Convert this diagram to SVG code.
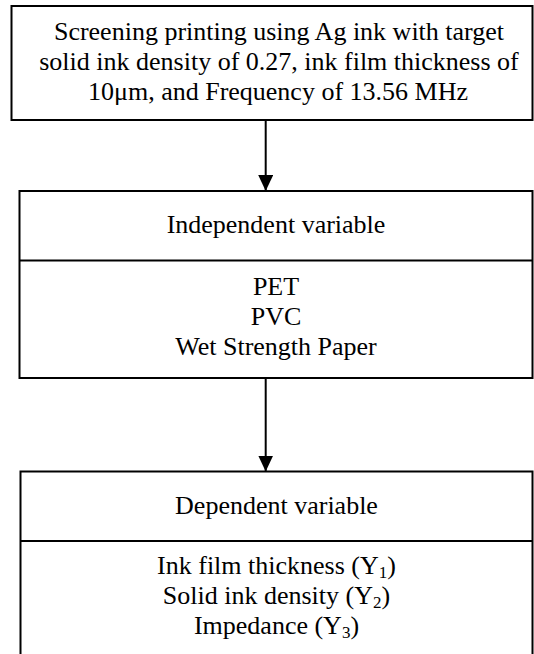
<svg xmlns="http://www.w3.org/2000/svg" width="534" height="654" viewBox="0 0 534 654">
<style>
.box{fill:#fff;stroke:#000;stroke-width:2}
.div{stroke:#000;stroke-width:2}
.t{font-family:"Liberation Serif","Times New Roman",serif;font-size:26px;fill:#000;text-anchor:middle}
.sub{font-size:17px}
.conn{stroke:#000;stroke-width:2;fill:none}
</style>
<defs>
<marker id="ah" markerUnits="userSpaceOnUse" markerWidth="16" markerHeight="16" refX="16" refY="7.5" orient="auto">
<path d="M0,0 L16,7.5 L0,15 Z" fill="#000"/>
</marker>
</defs>
<rect width="534" height="654" fill="#fff"/>
<g id="connectors">
<line class="conn" x1="265.7" y1="120" x2="265.7" y2="191" marker-end="url(#ah)"/>
<line class="conn" x1="265.7" y1="378" x2="265.7" y2="471.5" marker-end="url(#ah)"/>
</g>
<g id="node-screen-printing">
<rect class="box" x="11.5" y="6" width="521" height="114"/>
<text class="t" x="279" y="40">Screening printing using Ag ink with target</text>
<text class="t" x="279" y="70">solid ink density of 0.27, ink film thickness of</text>
<text class="t" x="278" y="99.5">10μm, and Frequency of 13.56 MHz</text>
</g>
<g id="node-independent">
<rect class="box" x="19.5" y="191" width="513" height="187"/>
<line class="div" x1="19.5" y1="260.5" x2="532.5" y2="260.5"/>
<text class="t" x="276" y="233">Independent variable</text>
<text class="t" x="276" y="295">PET</text>
<text class="t" x="276" y="325">PVC</text>
<text class="t" x="276" y="354.5">Wet Strength Paper</text>
</g>
<g id="node-dependent">
<rect class="box" x="20.5" y="471.5" width="512" height="200"/>
<line class="div" x1="20.5" y1="541" x2="532.5" y2="541"/>
<text class="t" x="276.5" y="514">Dependent variable</text>
<text class="t" x="276.5" y="574">Ink film thickness (Y<tspan class="sub" dy="4">1</tspan><tspan dy="-4">)</tspan></text>
<text class="t" x="276.5" y="604">Solid ink density (Y<tspan class="sub" dy="4">2</tspan><tspan dy="-4">)</tspan></text>
<text class="t" x="276.5" y="634">Impedance (Y<tspan class="sub" dy="4">3</tspan><tspan dy="-4">)</tspan></text>
</g>
</svg>
